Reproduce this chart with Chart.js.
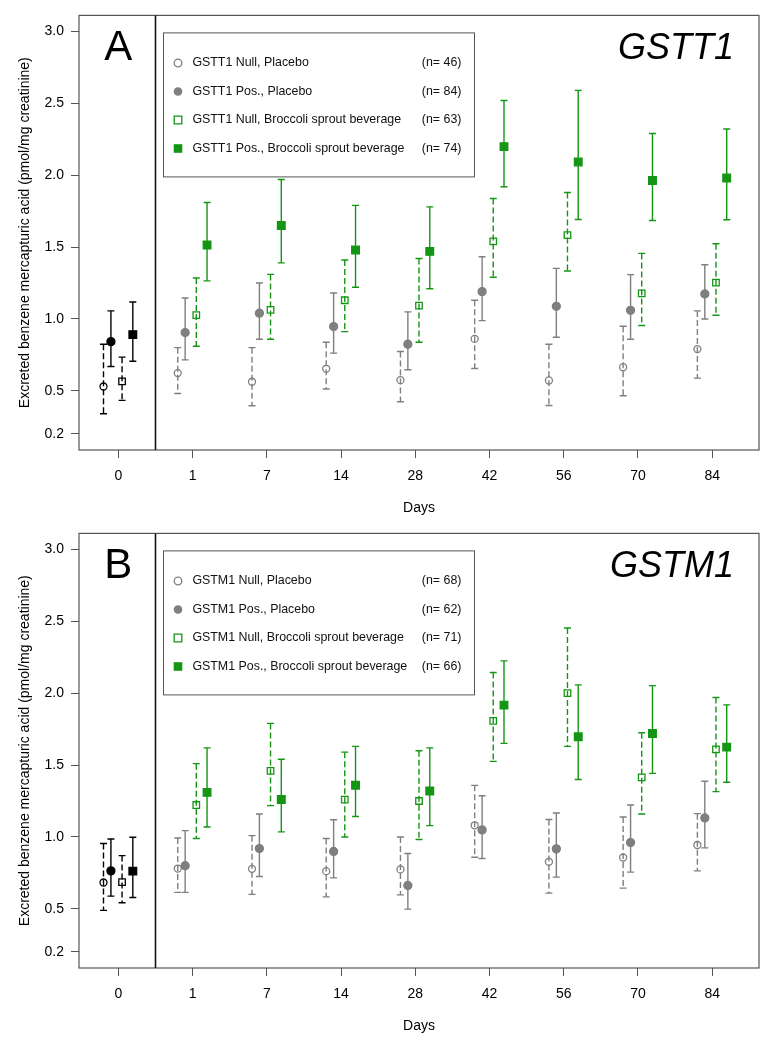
<!DOCTYPE html>
<html lang="en">
<head>
<meta charset="UTF-8" />
<title>Excreted benzene mercapturic acid - GSTT1 / GSTM1</title>
<script src="https://cdn.jsdelivr.net/npm/chart.js"></script>
<style>
  body { margin: 0; background: #fff; }
  canvas { position: absolute; left: 0; }
  #panelA { top: 0; }
  #panelB { top: 518px; }
</style>
</head>
<body>
<canvas id="panelA" width="782" height="520"></canvas>
<canvas id="panelB" width="782" height="520"></canvas>

<script>
const days = ['0', '1', '7', '14', '28', '42', '56', '70', '84'];
const yTicks = [0.2, 0.5, 1.0, 1.5, 2.0, 2.5, 3.0];

// Panel A - GSTT1
const gsttLabels = ['GSTT1 Null, Placebo', 'GSTT1 Pos., Placebo', 'GSTT1 Null, Broccoli sprout beverage', 'GSTT1 Pos., Broccoli sprout beverage'];
const gsttN = [46, 84, 63, 74];
const gsttNullPlacebo   = [0.53, 0.623, 0.563, 0.653, 0.574, 0.861, 0.572, 0.664, 0.79];
const gsttNullPlaceboLo = [0.34, 0.481, 0.396, 0.512, 0.424, 0.655, 0.398, 0.465, 0.588];
const gsttNullPlaceboHi = [0.824, 0.80, 0.80, 0.838, 0.773, 1.13, 0.824, 0.949, 1.056];
const gsttPosPlacebo    = [0.842, 0.905, 1.04, 0.947, 0.824, 1.19, 1.088, 1.06, 1.174];
const gsttPosPlaceboLo  = [0.669, 0.715, 0.859, 0.762, 0.646, 0.988, 0.873, 0.859, 1.0];
const gsttPosPlaceboHi  = [1.056, 1.146, 1.25, 1.18, 1.049, 1.433, 1.352, 1.308, 1.377];
const gsttNullBsb       = [0.565, 1.026, 1.063, 1.13, 1.093, 1.54, 1.583, 1.178, 1.252];
const gsttNullBsbLo     = [0.433, 0.81, 0.859, 0.912, 0.838, 1.29, 1.333, 0.954, 1.026];
const gsttNullBsbHi     = [0.734, 1.285, 1.31, 1.41, 1.42, 1.838, 1.88, 1.456, 1.523];
const gsttPosBsb        = [0.891, 1.514, 1.65, 1.48, 1.47, 2.199, 2.092, 1.963, 1.981];
const gsttPosBsbLo      = [0.706, 1.265, 1.39, 1.22, 1.21, 1.92, 1.692, 1.685, 1.69];
const gsttPosBsbHi      = [1.118, 1.81, 1.97, 1.79, 1.78, 2.52, 2.59, 2.29, 2.322];

// Panel B - GSTM1
const gstmLabels = ['GSTM1 Null, Placebo', 'GSTM1 Pos., Placebo', 'GSTM1 Null, Broccoli sprout beverage', 'GSTM1 Pos., Broccoli sprout beverage'];
const gstmN = [68, 62, 71, 66];
const gstmNullPlacebo   = [0.683, 0.78, 0.778, 0.762, 0.774, 1.081, 0.827, 0.857, 0.944];
const gstmNullPlaceboLo = [0.489, 0.614, 0.6, 0.583, 0.597, 0.859, 0.609, 0.644, 0.764];
const gstmNullPlaceboHi = [0.954, 0.993, 1.009, 0.989, 1.0, 1.359, 1.121, 1.139, 1.162];
const gstmPosPlacebo    = [0.764, 0.80, 0.919, 0.899, 0.662, 1.049, 0.917, 0.961, 1.132];
const gstmPosPlaceboLo  = [0.588, 0.614, 0.725, 0.715, 0.498, 0.85, 0.72, 0.755, 0.924];
const gstmPosPlaceboHi  = [0.986, 1.044, 1.16, 1.12, 0.885, 1.287, 1.167, 1.222, 1.387];
const gstmNullBsb       = [0.685, 1.222, 1.46, 1.26, 1.25, 1.808, 2.0, 1.415, 1.609];
const gstmNullBsbLo     = [0.542, 0.989, 1.218, 1.0, 0.982, 1.526, 1.63, 1.16, 1.315];
const gstmNullBsbHi     = [0.87, 1.51, 1.79, 1.59, 1.6, 2.144, 2.454, 1.725, 1.97];
const gstmPosBsb        = [0.762, 1.31, 1.26, 1.36, 1.32, 1.917, 1.697, 1.72, 1.625];
const gstmPosBsbLo      = [0.579, 1.069, 1.035, 1.142, 1.079, 1.651, 1.40, 1.442, 1.38];
const gstmPosBsbHi      = [0.998, 1.62, 1.54, 1.63, 1.62, 2.225, 2.058, 2.053, 1.919];

const FONT = "'Liberation Sans', Arial, sans-serif";
const GREY = '#7f7f7f';
const GREEN = '#149614';
const BLACK = '#000';
const FRAME = '#555';

// marker look for the 4 groups (null placebo, pos placebo, null bsb, pos bsb)
const styles = [
  { color: GREY,  shape: 'circle', radius: 3.5, filled: false, offset: -0.2 },
  { color: GREY,  shape: 'circle', radius: 4.0, filled: true,  offset: -0.1 },
  { color: GREEN, shape: 'rect',   radius: 4.6, filled: false, offset: 0.05 },
  { color: GREEN, shape: 'rect',   radius: 5.4, filled: true,  offset: 0.195 }
];

function makeDataset(mean, lo, hi, s) {
  const colors = days.map((d, i) => i === 0 ? BLACK : s.color);
  return {
    data: days.map((d, i) => ({ x: i + s.offset, y: mean[i], lo: lo[i], hi: hi[i] })),
    pointStyle: s.shape,
    pointRadius: s.radius,
    pointBorderWidth: 1.3,
    pointBorderColor: colors,
    pointBackgroundColor: s.filled ? colors : 'rgba(0,0,0,0)',
    dashed: !s.filled
  };
}

const errorBars = {
  id: 'errorBars',
  beforeDatasetsDraw(chart) {
    const { ctx, scales: { x, y } } = chart;
    chart.data.datasets.forEach(ds => {
      ds.data.forEach((p, i) => {
        const px = x.getPixelForValue(p.x);
        const top = y.getPixelForValue(p.hi);
        const bot = y.getPixelForValue(p.lo);
        ctx.save();
        ctx.strokeStyle = ds.pointBorderColor[i];
        ctx.lineWidth = 1.4;
        ctx.setLineDash(ds.dashed ? [6, 3] : []);
        ctx.beginPath();
        ctx.moveTo(px, top);
        ctx.lineTo(px, bot);
        ctx.stroke();
        ctx.setLineDash([]);
        ctx.beginPath();
        ctx.moveTo(px - 3.5, top); ctx.lineTo(px + 3.5, top);
        ctx.moveTo(px - 3.5, bot); ctx.lineTo(px + 3.5, bot);
        ctx.stroke();
        ctx.restore();
      });
    });
  }
};

// frame, divider after day 0, panel letter, gene name and the legend box
const decorations = {
  id: 'decorations',
  afterDatasetsDraw(chart, args, opts) {
    const { ctx, chartArea: a, scales: { x } } = chart;
    ctx.save();
    ctx.strokeStyle = FRAME;
    ctx.lineWidth = 1.2;
    ctx.strokeRect(a.left, a.top, a.right - a.left, a.bottom - a.top);

    const dx = Math.round(x.getPixelForValue(0.5)) + 0.5;
    ctx.strokeStyle = '#111';
    ctx.lineWidth = 1.6;
    ctx.beginPath();
    ctx.moveTo(dx, a.top);
    ctx.lineTo(dx, a.bottom);
    ctx.stroke();

    ctx.fillStyle = BLACK;
    ctx.textBaseline = 'alphabetic';
    ctx.textAlign = 'center';
    ctx.font = '42px ' + FONT;
    ctx.fillText(opts.letter, x.getPixelForValue(0), a.top + 45);
    ctx.textAlign = 'right';
    ctx.font = 'italic 36px ' + FONT;
    ctx.fillText(opts.gene, a.right - 25, a.top + 44);

    // legend
    const bx = a.left + 84, by = a.top + 17, bw = 311, bh = 144;
    ctx.fillStyle = '#fff';
    ctx.fillRect(bx, by, bw, bh);
    ctx.strokeStyle = FRAME;
    ctx.lineWidth = 1;
    ctx.strokeRect(bx + 0.5, by + 0.5, bw, bh);
    ctx.font = '12.4px ' + FONT;
    ctx.textBaseline = 'middle';
    opts.labels.forEach((lab, k) => {
      const s = styles[k];
      const ry = by + 30.6 + k * 28.5;
      const sx = bx + 15;
      ctx.strokeStyle = s.color;
      ctx.fillStyle = s.color;
      ctx.lineWidth = 1.3;
      ctx.beginPath();
      if (s.shape === 'circle') {
        ctx.arc(sx, ry, s.filled ? 4.3 : 3.8, 0, Math.PI * 2);
      } else if (s.filled) {
        ctx.rect(sx - 4.3, ry - 4.3, 8.6, 8.6);
      } else {
        ctx.rect(sx - 3.8, ry - 3.8, 7.6, 7.6);
      }
      if (s.filled) ctx.fill(); else ctx.stroke();
      ctx.fillStyle = '#111';
      ctx.textAlign = 'left';
      ctx.fillText(lab, bx + 29.4, ry);
      ctx.textAlign = 'right';
      ctx.fillText('(n= ' + opts.n[k] + ')', bx + 298.4, ry);
    });
    ctx.restore();
  }
};

function makePanel(id, letter, gene, labels, n, series) {
  const tickFont = { family: FONT, size: 14 };
  new Chart(document.getElementById(id), {
    type: 'scatter',
    data: { datasets: series.map((s, k) => makeDataset(s[0], s[1], s[2], styles[k])) },
    options: {
      responsive: false,
      animation: false,
      layout: { padding: { top: 15, right: 23, left: 0, bottom: 0 } },
      plugins: {
        legend: { display: false },
        tooltip: { enabled: false },
        decorations: { letter, gene, labels, n }
      },
      scales: {
        x: {
          type: 'linear',
          min: -0.53,
          max: 8.63,
          afterBuildTicks: s => { s.ticks = days.map((d, i) => ({ value: i })); },
          afterFit: s => { s.height = 70; },
          ticks: { callback: v => days[v], color: BLACK, font: tickFont, padding: 10, autoSkip: false, maxRotation: 0 },
          grid: { drawOnChartArea: false, tickLength: 8, color: FRAME },
          border: { display: false },
          title: { display: true, text: 'Days', color: BLACK, font: tickFont, padding: { top: 0, bottom: 3 } }
        },
        y: {
          min: 0.088,
          max: 3.112,
          afterBuildTicks: s => { s.ticks = yTicks.map(v => ({ value: v })); },
          afterFit: s => { s.width = 79; },
          ticks: { callback: v => v.toFixed(1), color: BLACK, font: tickFont, padding: 7 },
          grid: { drawOnChartArea: false, tickLength: 8, color: FRAME },
          border: { display: false },
          title: { display: true, text: 'Excreted benzene mercapturic acid (pmol/mg creatinine)', color: BLACK, font: tickFont, padding: { top: 17, bottom: 0 } }
        }
      }
    },
    plugins: [errorBars, decorations]
  });
}

makePanel('panelA', 'A', 'GSTT1', gsttLabels, gsttN, [
  [gsttNullPlacebo, gsttNullPlaceboLo, gsttNullPlaceboHi],
  [gsttPosPlacebo, gsttPosPlaceboLo, gsttPosPlaceboHi],
  [gsttNullBsb, gsttNullBsbLo, gsttNullBsbHi],
  [gsttPosBsb, gsttPosBsbLo, gsttPosBsbHi]
]);

makePanel('panelB', 'B', 'GSTM1', gstmLabels, gstmN, [
  [gstmNullPlacebo, gstmNullPlaceboLo, gstmNullPlaceboHi],
  [gstmPosPlacebo, gstmPosPlaceboLo, gstmPosPlaceboHi],
  [gstmNullBsb, gstmNullBsbLo, gstmNullBsbHi],
  [gstmPosBsb, gstmPosBsbLo, gstmPosBsbHi]
]);
</script>
</body>
</html>
